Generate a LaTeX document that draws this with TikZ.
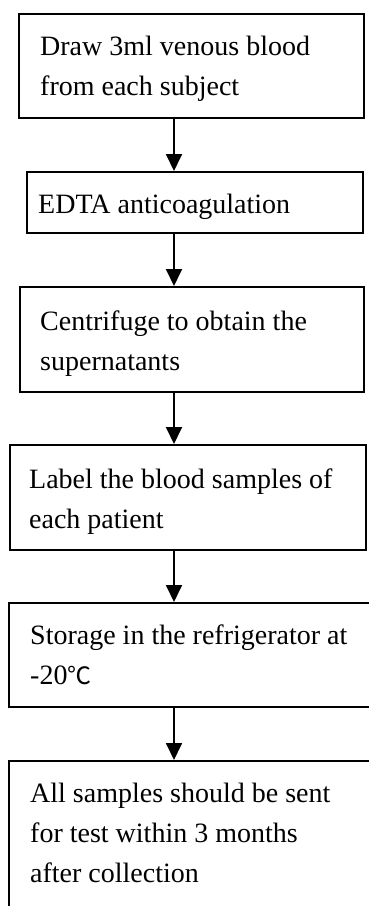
\documentclass[tikz,border=0pt]{standalone}
\usepackage{fontspec}
\setmainfont{Liberation Serif}
\newfontfamily\cjk{Noto Sans CJK SC}
\usetikzlibrary{arrows.meta}
\tikzset{
  box/.style={draw=black, line width=1.6pt, rectangle, inner sep=0pt, anchor=north west},
  txt/.style={anchor=north west, inner sep=0pt, align=left, font=\fontsize{28}{40}\selectfont},
  arr/.style={line width=1.8pt, -{Triangle[width=16pt,length=17pt]}}
}
\begin{document}
\begin{tikzpicture}[x=1pt,y=-1pt]
\useasboundingbox (0,0) rectangle (369,906);
\clip (0,0) rectangle (369,906);
\node[box, minimum width=345pt, minimum height=104pt] (b1) at (18,13) {};
\node[box, minimum width=336pt, minimum height=61pt] (b2) at (26,171) {};
\node[box, minimum width=344pt, minimum height=105pt] (b3) at (19,286) {};
\node[box, minimum width=356pt, minimum height=105pt] (b4) at (9,444) {};
\node[box, minimum width=380pt, minimum height=104pt] (b5) at (8,602) {};
\node[box, minimum width=380pt, minimum height=180pt] (b6) at (8,760) {};
\node[txt] (t1) at (40,27) {\strut Draw 3ml venous blood\\from each subject};
\node[txt] (t2) at (38,185) {\strut EDTA anticoagulation};
\node[txt] (t3) at (40,302) {\strut Centrifuge to obtain the\\supernatants};
\node[txt] (t4) at (29,460) {\strut Label the blood samples of\\each patient};
\node[txt] (t5) at (30,616) {\strut Storage in the refrigerator at\\-20{\cjk\fontsize{24}{40}\selectfont ℃}};
\node[txt] (t6) at (30,774) {\strut All samples should be sent\\for test within 3 months\\after collection};
\coordinate (ax) at (174,0);
\draw[arr] (b1.south -| ax) -- (b2.north -| ax);
\draw[arr] (b2.south -| ax) -- (b3.north -| ax);
\draw[arr] (b3.south -| ax) -- (b4.north -| ax);
\draw[arr] (b4.south -| ax) -- (b5.north -| ax);
\draw[arr] (b5.south -| ax) -- (b6.north -| ax);
\end{tikzpicture}
\end{document}
